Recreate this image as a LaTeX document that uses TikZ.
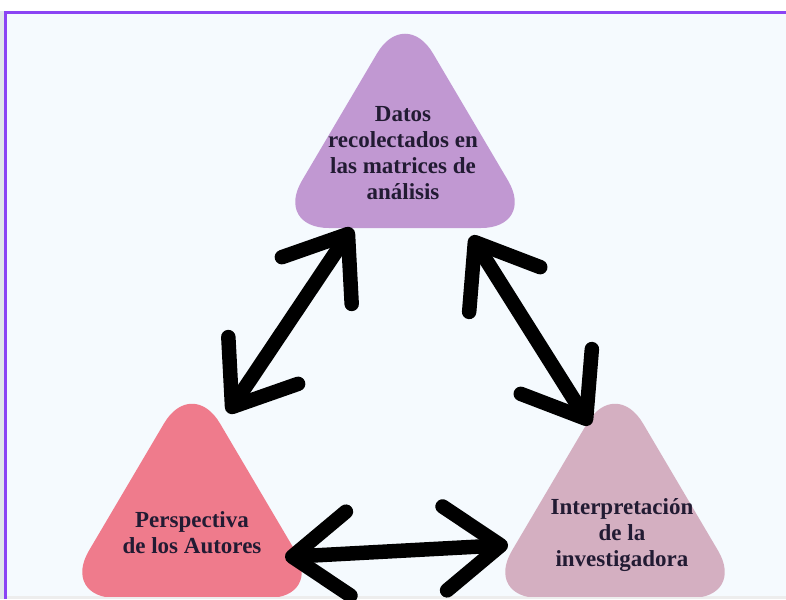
\documentclass[tikz,border=0pt]{standalone}
\usepackage{fontspec}
\setmainfont{Liberation Serif}
\usepackage{xcolor}
\usetikzlibrary{arrows.meta, positioning}

\definecolor{framepurple}{HTML}{8B44F4}
\definecolor{paper}{HTML}{F5FAFE}
\definecolor{datoscol}{HTML}{C198D2}
\definecolor{autorescol}{HTML}{EF7B8C}
\definecolor{interpcol}{HTML}{D4AFC1}
\definecolor{inkcol}{HTML}{221B33}

\tikzset{
  blob/.style={rounded corners=55pt},
  boxtext/.style={text=inkcol, align=center, inner sep=0pt, font=\bfseries\fontsize{23}{26}\selectfont},
  link/.style={line width=14.5pt, {Straight Barb[length=56pt,width=84pt,round]}-{Straight Barb[length=56pt,width=84pt,round]}}
}

\begin{document}
\begin{tikzpicture}[x=1pt, y=-1pt]

\useasboundingbox (0,0) rectangle (786,599);

% Draw the frame and the paper
\fill[white] (0,0) rectangle (786,599);
\fill[black!8!paper] (0,11) rectangle (4,599);
\fill[black!7] (7,596) rectangle (786,599);
\fill[paper] (7,14) rectangle (786,596);
\draw[framepurple, line width=3pt] (5.5,599) -- (5.5,12.5) -- (786,12.5);

% Draw the three rounded triangles
\begin{scope}
\clip (7,14) rectangle (786,596);
\fill[datoscol, blob] (405,6) -- (536,228) -- (274,228) -- cycle;
\fill[autorescol, blob] (192,376) -- (323,598) -- (61,598) -- cycle;
\fill[interpcol, blob] (615,376) -- (746,598) -- (484,598) -- cycle;
\end{scope}

% Add the labels
\node[boxtext] (datos) at (403,153) {Datos\\recolectados en\\las matrices de\\análisis};
\node[boxtext] (autores) at (192,533) {Perspectiva\\de los Autores};
\node[boxtext] (interp) at (622,535) {Interpretación\\de la\\investigadora};

% Ends of the arrows
\coordinate (datosSW) at (352,228);
\coordinate (autoresNE) at (228,413);
\coordinate (datosSE) at (471,236);
\coordinate (interpNW) at (590,425);
\coordinate (autoresE) at (285,557);
\coordinate (interpW) at (508,545);

% Draw the double arrows
\draw[link] (datosSW) -- (autoresNE);
\draw[link] (datosSE) -- (interpNW);
\draw[link] (autoresE) -- (interpW);

\end{tikzpicture}
\end{document}
